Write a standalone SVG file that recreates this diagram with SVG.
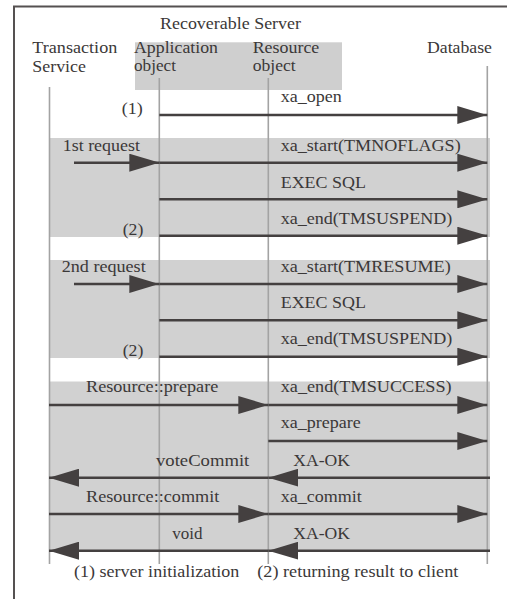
<svg xmlns="http://www.w3.org/2000/svg" width="507" height="599" viewBox="0 0 507 599">
<style>
.t{font-family:"Liberation Serif","Times New Roman",serif;font-size:16.5px;fill:#3b3838}
.band{fill:#d1d1d1}
.life{stroke:#a3a3a3;stroke-width:1.6;fill:none}
.msg{stroke:#444040;stroke-width:2.5;fill:none;marker-end:url(#ah)}
</style>
<defs>
<marker id="ah" markerUnits="userSpaceOnUse" markerWidth="30" markerHeight="18" refX="30" refY="9" orient="auto">
<path d="M0,0 L30,9 L0,18 z" fill="#444040"/>
</marker>
</defs>
<rect width="507" height="599" fill="#ffffff"/>
<path d="M14,599 V6.5 H507" fill="none" stroke="#555151" stroke-width="2"/>
<g id="bands">
<rect class="band" x="50" y="138" width="440" height="99"/>
<rect class="band" x="50" y="260" width="440" height="98"/>
<rect class="band" x="49" y="381.5" width="441" height="170.5"/>
</g>
<g id="server">
<rect x="135" y="42.3" width="207" height="47.7" fill="#cfcfcf"/>
<text class="t" x="160" y="29" textLength="141" lengthAdjust="spacingAndGlyphs">Recoverable Server</text>
</g>
<g id="transaction-service">
<text class="t" x="32.3" y="53.3" textLength="85" lengthAdjust="spacingAndGlyphs">Transaction</text>
<text class="t" x="32.3" y="71.7" textLength="53.7" lengthAdjust="spacingAndGlyphs">Service</text>
<line class="life" x1="49.5" y1="87" x2="49.5" y2="564"/>
</g>
<g id="application-object">
<text class="t" x="134" y="53.3" textLength="84" lengthAdjust="spacingAndGlyphs">Application</text>
<text class="t" x="134" y="71.3" textLength="42" lengthAdjust="spacingAndGlyphs">object</text>
<line class="life" x1="159.3" y1="78" x2="159.3" y2="564"/>
</g>
<g id="resource-object">
<text class="t" x="252.7" y="53.3" textLength="66.6" lengthAdjust="spacingAndGlyphs">Resource</text>
<text class="t" x="252.7" y="71.3" textLength="43" lengthAdjust="spacingAndGlyphs">object</text>
<line class="life" x1="268.3" y1="78" x2="268.3" y2="564"/>
</g>
<g id="database">
<text class="t" x="427" y="53.3" textLength="65" lengthAdjust="spacingAndGlyphs">Database</text>
<line class="life" x1="487.3" y1="66" x2="487.3" y2="564"/>
</g>
<g id="connectors">
<line class="msg" x1="159.3" y1="115" x2="487.3" y2="115"/>
<line class="msg" x1="74" y1="162.7" x2="159.3" y2="162.7"/>
<line class="msg" x1="159.3" y1="162.7" x2="487.3" y2="162.7"/>
<line class="msg" x1="159.3" y1="199.3" x2="487.3" y2="199.3"/>
<line class="msg" x1="159.3" y1="235.7" x2="487.3" y2="235.7"/>
<line class="msg" x1="74" y1="284" x2="159.3" y2="284"/>
<line class="msg" x1="159.3" y1="284" x2="487.3" y2="284"/>
<line class="msg" x1="159.3" y1="320.3" x2="487.3" y2="320.3"/>
<line class="msg" x1="159.3" y1="356.7" x2="487.3" y2="356.7"/>
<line class="msg" x1="49" y1="405" x2="268.3" y2="405"/>
<line class="msg" x1="268.3" y1="405" x2="487.3" y2="405"/>
<line class="msg" x1="268.3" y1="441" x2="487.3" y2="441"/>
<line class="msg" x1="490" y1="477.7" x2="268.3" y2="477.7"/>
<line class="msg" x1="268.3" y1="477.7" x2="49" y2="477.7"/>
<line class="msg" x1="49" y1="514" x2="268.3" y2="514"/>
<line class="msg" x1="268.3" y1="514" x2="487.3" y2="514"/>
<line class="msg" x1="490" y1="550.7" x2="268.3" y2="550.7"/>
<line class="msg" x1="268.3" y1="550.7" x2="49" y2="550.7"/>
</g>
<g id="labels">
<text class="t" x="121.7" y="114" textLength="21" lengthAdjust="spacingAndGlyphs">(1)</text>
<text class="t" x="280.7" y="101.5" textLength="61" lengthAdjust="spacingAndGlyphs">xa_open</text>
<text class="t" x="62.7" y="150.5" textLength="77.3" lengthAdjust="spacingAndGlyphs">1st request</text>
<text class="t" x="280.7" y="150.5" textLength="180" lengthAdjust="spacingAndGlyphs">xa_start(TMNOFLAGS)</text>
<text class="t" x="280.7" y="188" textLength="85.3" lengthAdjust="spacingAndGlyphs">EXEC SQL</text>
<text class="t" x="280.7" y="224" textLength="171.6" lengthAdjust="spacingAndGlyphs">xa_end(TMSUSPEND)</text>
<text class="t" x="122.7" y="235" textLength="20.7" lengthAdjust="spacingAndGlyphs">(2)</text>
<text class="t" x="61.7" y="271.7" textLength="84" lengthAdjust="spacingAndGlyphs">2nd request</text>
<text class="t" x="280.7" y="271.7" textLength="170" lengthAdjust="spacingAndGlyphs">xa_start(TMRESUME)</text>
<text class="t" x="280.7" y="308.3" textLength="85.3" lengthAdjust="spacingAndGlyphs">EXEC SQL</text>
<text class="t" x="280.7" y="344" textLength="171.6" lengthAdjust="spacingAndGlyphs">xa_end(TMSUSPEND)</text>
<text class="t" x="122.7" y="356" textLength="20.7" lengthAdjust="spacingAndGlyphs">(2)</text>
<text class="t" x="86" y="392.3" textLength="132.3" lengthAdjust="spacingAndGlyphs">Resource::prepare</text>
<text class="t" x="280.7" y="392.3" textLength="171" lengthAdjust="spacingAndGlyphs">xa_end(TMSUCCESS)</text>
<text class="t" x="280.7" y="428.3" textLength="80" lengthAdjust="spacingAndGlyphs">xa_prepare</text>
<text class="t" x="156" y="465.5" textLength="93.3" lengthAdjust="spacingAndGlyphs">voteCommit</text>
<text class="t" x="293.3" y="465.5" textLength="56.7" lengthAdjust="spacingAndGlyphs">XA-OK</text>
<text class="t" x="86" y="502.3" textLength="133.3" lengthAdjust="spacingAndGlyphs">Resource::commit</text>
<text class="t" x="280.7" y="502.3" textLength="81" lengthAdjust="spacingAndGlyphs">xa_commit</text>
<text class="t" x="172.3" y="539" textLength="30.3" lengthAdjust="spacingAndGlyphs">void</text>
<text class="t" x="293.3" y="539" textLength="56.7" lengthAdjust="spacingAndGlyphs">XA-OK</text>
<text class="t" x="74" y="577.3" textLength="165.3" lengthAdjust="spacingAndGlyphs">(1) server initialization</text>
<text class="t" x="257.3" y="577.3" textLength="201" lengthAdjust="spacingAndGlyphs">(2) returning result to client</text>
</g>
</svg>
